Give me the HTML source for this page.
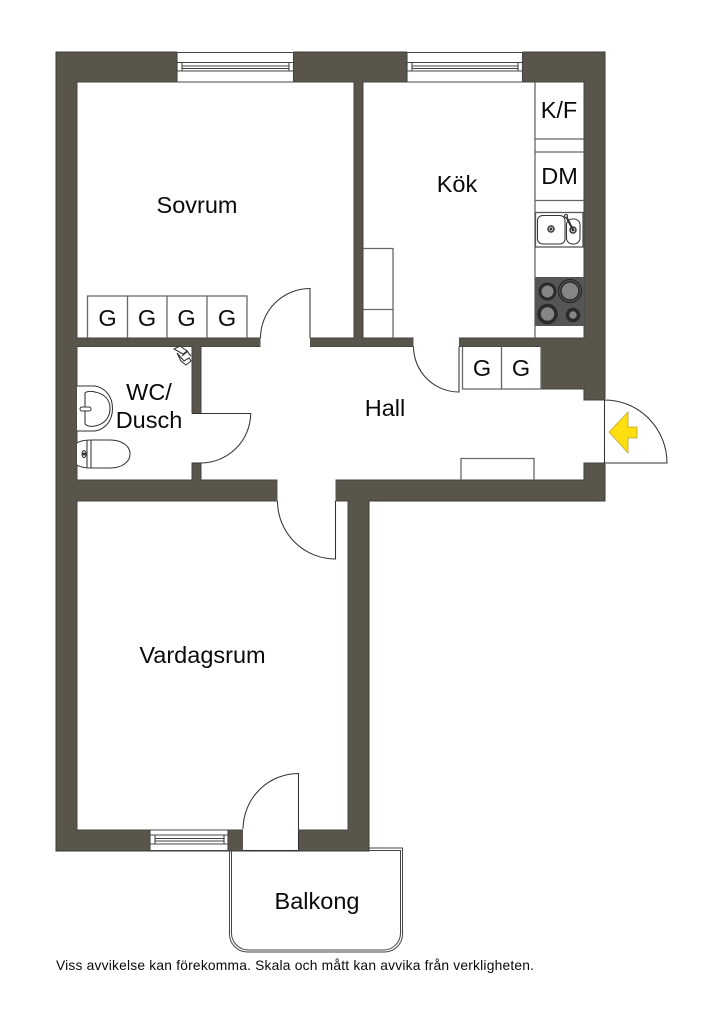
<!DOCTYPE html>
<html><head><meta charset="utf-8"><style>
html,body{margin:0;padding:0;background:#fff}
svg{display:block}
text{font-family:"Liberation Sans",sans-serif;fill:#0a0a0a}
.l{fill:none;stroke:#444;stroke-width:1.1}
.g{fill:none;stroke:#666;stroke-width:1.3}
.t{fill:none;stroke:#333;stroke-width:1.05}
</style></head><body>
<svg width="724" height="1024" viewBox="0 0 724 1024" xmlns="http://www.w3.org/2000/svg">
<rect width="724" height="1024" fill="#fff"/>
<!-- wall mass -->
<path fill="#59554a" stroke="#3a3a34" stroke-width="1" d="M56 52H605V501H369V851H56Z"/>
<!-- rooms -->
<g fill="#fff" stroke="#444" stroke-width="1">
<rect x="77" y="82" width="277" height="256"/>
<rect x="363" y="82" width="221" height="256"/>
<rect x="77" y="346.500" width="115" height="133.500"/>
<rect x="77" y="501" width="271" height="329"/>
<path d="M201 346.500H541V389H584V480H201Z"/>
</g>
<!-- door openings -->
<g fill="#fff">
<rect x="260.500" y="337" width="49.500" height="11"/>
<rect x="413.500" y="337" width="45.500" height="11"/>
<rect x="191" y="413.500" width="11.500" height="49"/>
<rect x="277.500" y="479" width="58" height="23"/>
<rect x="243" y="829" width="55.500" height="21.500"/>
<rect x="583" y="400.500" width="22" height="62"/>
<rect x="605" y="399" width="2" height="65"/>
<rect x="177" y="51.500" width="116.500" height="31"/>
<rect x="407" y="51.500" width="115.500" height="31"/>
<rect x="150" y="829.500" width="78" height="21.500"/>
</g>
<!-- wall steps near entrance -->
<path class="l" d="M584 389V400H605M584 480V463H605"/>
<!-- windows -->
<g class="l">
<path d="M177 52.500H293.500M177 82H293.500M177 52V82M293.500 52V82"/>
<path d="M407 52.500H522.500M407 82H522.500M407 52V82M522.500 52V82"/>
<path d="M177 62.500H293.500V71H177ZM182 62.500V71M289 62.500V71M182 66H289M182 68.500H289"/>
<path d="M407 62.500H522.500V71H407ZM412 62.500V71M518 62.500V71M412 66H518M412 68.500H518"/>
<path d="M150 830H228V850.500H150ZM150 835H228V844H150ZM155 835V844M224 835V844M155 838.500H224M155 841H224"/>
</g>
<!-- doors -->
<g class="t">
<path d="M260.500 338A49.500 49.500 0 0 1 310 288.500V338"/>
<path d="M413.500 346.500A45.500 45.500 0 0 0 459 392V346.500"/>
<path d="M192 413.500H250.700A50 50 0 0 1 201 463H192"/>
<path d="M277.500 501A58 58 0 0 0 335.500 559V501"/>
<path d="M243 829A55.500 56 0 0 1 298.500 773.500V850"/>
<path d="M243 850.500H298.500"/>
<path d="M604.500 400V463H667A62.500 63 0 0 0 604.500 400"/>
</g>
<path d="M609 432L628 412V427H637V438H628V453Z" fill="#ffdf10" stroke="#b9a530" stroke-width=".8"/>
<!-- closets -->
<g class="g">
<path d="M87.500 338V296H247V338M127.500 296V338M167 296V338M207 296V338"/>
<path d="M462.500 346.500V389H541V346.500M501.500 346.500V389"/>
<path d="M461 480V458.500H534V480"/>
<path d="M363 248.500H393V338M363 309.500H393"/>
<path d="M535 82V338M535 139H584M535 152H584M535 200.500H584"/>
</g>
<!-- sink -->
<g class="t">
<rect x="535.500" y="212.500" width="47.500" height="34.500" fill="#fff" stroke="#555" stroke-width="1.300"/>
<rect x="537.500" y="215.500" width="27.500" height="28.500" rx="5"/>
<rect x="566.500" y="219" width="13.500" height="25" rx="6"/>
<circle cx="551" cy="229" r="3" stroke-width="1.500"/><circle cx="551" cy="229" r="1" fill="#333"/>
<circle cx="573" cy="230" r="3" stroke-width="1.500"/><circle cx="573" cy="230" r="1" fill="#333"/>
<path d="M566 216L573 230" stroke-width="2"/>
<circle cx="566" cy="216" r="1.500" fill="#fff"/>
</g>
<!-- stove -->
<rect x="535" y="277" width="49" height="49" fill="#555654"/>
<g stroke="#2a2a2a">
<circle cx="547.500" cy="291.500" r="7.500" fill="#858585" stroke-width="3"/>
<circle cx="570" cy="291" r="9" fill="#858585" stroke-width="1.500"/>
<circle cx="570" cy="291" r="11.500" fill="none" stroke-width="1.300"/>
<circle cx="547.500" cy="314" r="8.500" fill="#858585" stroke-width="3.500"/>
<circle cx="573" cy="315" r="5.500" fill="#858585" stroke-width="3.500"/>
</g>
<!-- basin, toilet -->
<g class="t">
<path d="M77 386H95C106 388 112.500 397 112.500 408.500S106 429 95 431H77" fill="#fff"/>
<path d="M85 393C87 391 92 391 95 392C105 394 110 400 110 408.500S105 424 95 426C91 427 87 426 85 424Z" fill="#fff"/>
<rect x="80" y="407" width="11" height="4" rx="2" fill="#fff"/>
<path d="M77 443C80 441 85 440 91 440H110C122 440 130 446 130 454S122 468 110 468H91C85 468 80 467 77 465" fill="#fff"/>
<path d="M87 440V468M91 440V468"/>
<ellipse cx="84" cy="454" rx="2" ry="3.500"/>
<circle cx="84" cy="454" r="1" fill="#333"/>
<path d="M174 349L180 346L187 351L183 354Z" fill="#fff"/>
<path d="M177 353L184 361L189 358L191 361L186 365L181 361ZM186 350L191 356M182 356L188 351" fill="#fff"/>
</g>
<!-- balcony -->
<g fill="none" stroke="#444" stroke-width="1">
<path d="M229.500 851V934A18 18 0 0 0 247.500 952H384A18 18 0 0 0 402.500 934V848H369"/>
<path d="M231.500 851V933A17 17 0 0 0 248.500 950H383A17 17 0 0 0 400.500 933V850.500H369"/>
</g>
<!-- labels -->
<g text-anchor="middle" font-size="23.500">
<text x="197" y="213">Sovrum</text>
<text x="457" y="192">Kök</text>
<text x="385" y="416">Hall</text>
<text x="202.500" y="663">Vardagsrum</text>
<text x="317" y="909">Balkong</text>
<text x="149" y="400">WC/</text>
<text x="149" y="428">Dusch</text>
<text x="559" y="118">K/F</text>
<text x="559.500" y="184">DM</text>
<text x="107.500" y="326">G</text>
<text x="147" y="326">G</text>
<text x="186.500" y="326">G</text>
<text x="227" y="326">G</text>
<text x="482" y="376">G</text>
<text x="521" y="376">G</text>
</g>
<text x="56" y="970" font-size="13.800" textLength="478">Viss avvikelse kan förekomma. Skala och mått kan avvika från verkligheten.</text>
</svg>
</body></html>
